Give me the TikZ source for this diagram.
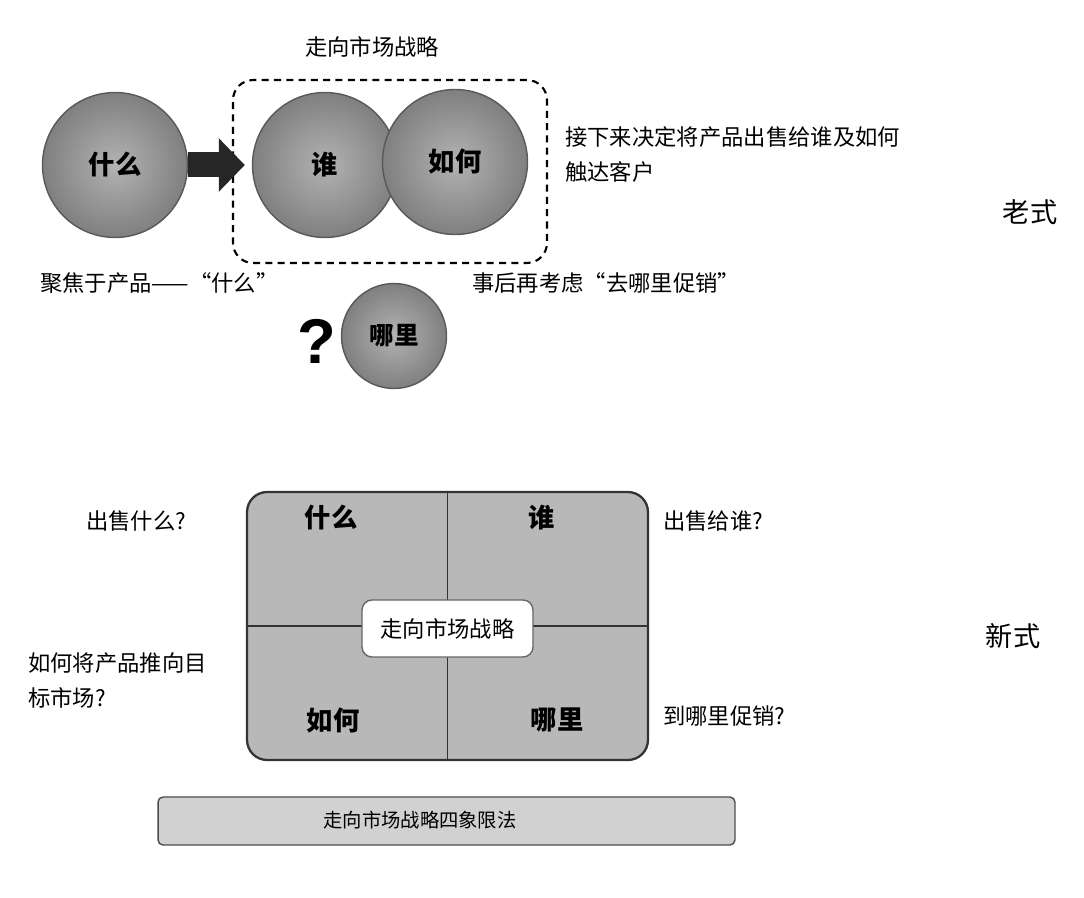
\documentclass[tikz,border=0pt]{standalone}
\usepackage{fontspec}
\newfontfamily\cjk{Noto Sans CJK SC}
\newfontfamily\qfont{Liberation Sans}
\usetikzlibrary{arrows.meta}

\begin{document}
\begin{tikzpicture}[x=0.02cm, y=-0.02cm,
  ball/.style={circle, draw=black!65, line width=0.8pt, inner color=black!30, outer color=black!50, minimum size=2.9cm, font=\cjk\bfseries\fontsize{15}{18}\selectfont},
  txt/.style={inner sep=0pt, font=\cjk\fontsize{12.7}{19.8}\selectfont},
  qlbl/.style={inner sep=0pt, font=\cjk\bfseries\fontsize{15}{18}\selectfont},
  side/.style={inner sep=0pt, font=\cjk\fontsize{15.5}{18}\selectfont}]
  \fill[white] (0,0) rectangle (1084,898);
  \useasboundingbox (0,0) rectangle (1084,898);

  % 老式: 先定产品, 再定客户与渠道
  \node[txt] (gtmtitle) at (372,47) {走向市场战略};
  \node[draw, line width=1.2pt, dash pattern=on 4pt off 3pt, rounded corners=0.4cm, minimum width=6.28cm, minimum height=3.66cm] (gtm) at (390,171.5) {};
  \node[ball] (what) at (115,165) {什么};
  \node[ball] (who) at (325,165) {谁};
  \node[ball] (how) at (455,162) {如何};
  \draw[-{Triangle[length=0.52cm,width=1.04cm]}, line width=0.5cm, black!85, shorten >=0.14cm] (what) -- (who);

  \node[txt, anchor=west, align=left] (oldnote) at (565,154.5) {接下来决定将产品出售给谁及如何\\触达客户};
  \node[txt, anchor=west] (focus) at (40,283) {聚焦于产品——“什么”};
  \node[txt, anchor=west] (later) at (472,283) {事后再考虑“去哪里促销”};

  \node[ball, minimum size=2.1cm, font=\cjk\bfseries\fontsize{14}{16}\selectfont] (where) at (394,336) {哪里};
  \node[inner sep=0pt, font=\qfont\bfseries\fontsize{36}{36}\selectfont] (qmark) at (317,341) {?};

  \node[side] (old) at (1030,212) {老式};

  % 新式: 四象限
  \node[draw=black!80, line width=1.3pt, fill=black!28, rounded corners=0.4cm, minimum width=8.02cm, minimum height=5.36cm] (quad) at (447.5,626) {};
  \draw[line width=1pt, black!80] (quad.north) -- (quad.south);
  \draw[line width=1pt, black!80] (quad.west) -- (quad.east);
  \node[txt, draw=black!60, line width=0.8pt, fill=white, rounded corners=0.2cm, minimum width=3.42cm, minimum height=1.14cm] (core) at (447.5,628.5) {走向市场战略};

  \node[qlbl] (qwhat) at (331,518) {什么};
  \node[qlbl] (qwho) at (542,518) {谁};
  \node[qlbl] (qhow) at (333,720) {如何};
  \node[qlbl] (qwhere) at (557,720) {哪里};

  \node[txt] (sellwhat) at (136,521) {出售什么?};
  \node[txt, anchor=west] (sellwho) at (663,521) {出售给谁?};
  \node[txt, anchor=west, align=left] (sellhow) at (28,680.5) {如何将产品推向目\\标市场?};
  \node[txt, anchor=west] (sellwhere) at (663,716) {到哪里促销?};

  \node[side] (new) at (1013,636) {新式};

  % 底部标题条
  \node[draw=black!70, line width=0.8pt, fill=black!18, rounded corners=0.1cm, minimum width=11.54cm, minimum height=0.96cm] (bar) at (446.5,821) {};
  \node[txt, font=\cjk\fontsize{11}{14}\selectfont] (barlbl) at (420,820) {走向市场战略四象限法};
\end{tikzpicture}
\end{document}
